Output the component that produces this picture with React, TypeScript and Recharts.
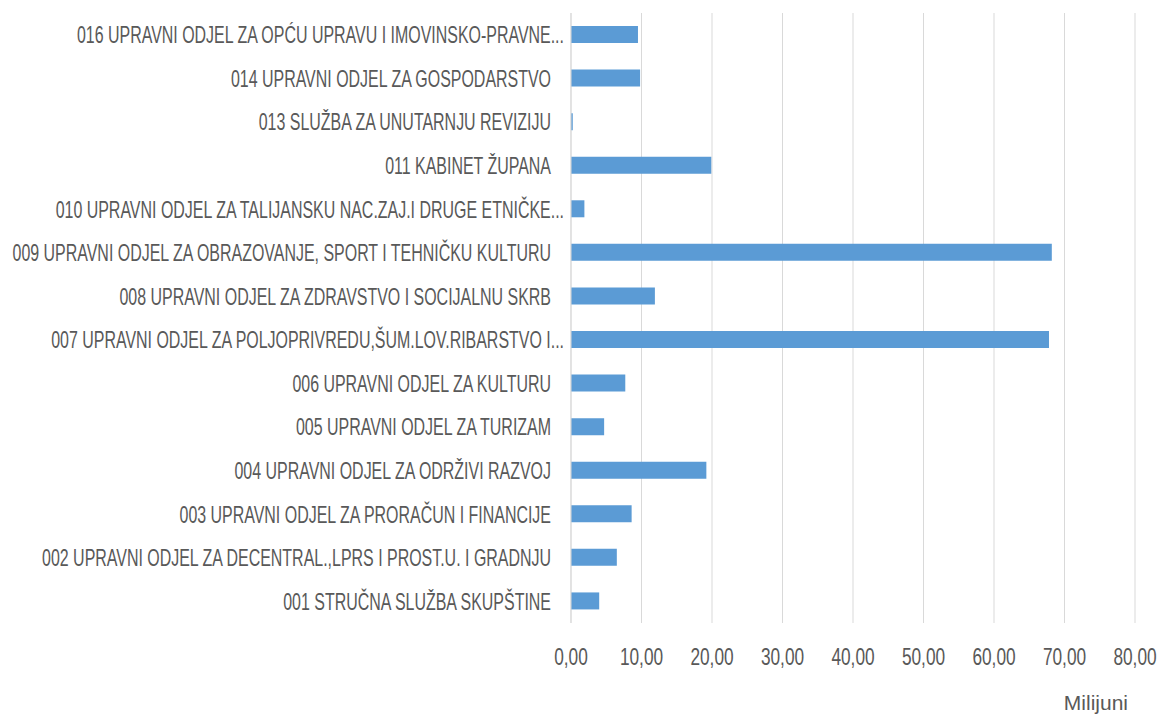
import { BarChart, Bar, XAxis, YAxis, CartesianGrid } from 'recharts';

const CATEGORIES = [
  '001 STRUČNA SLUŽBA SKUPŠTINE',
  '002 UPRAVNI ODJEL ZA DECENTRAL.,LPRS I PROST.U. I GRADNJU',
  '003 UPRAVNI ODJEL ZA PRORAČUN I FINANCIJE',
  '004 UPRAVNI ODJEL ZA ODRŽIVI RAZVOJ',
  '005 UPRAVNI ODJEL ZA TURIZAM',
  '006 UPRAVNI ODJEL ZA KULTURU',
  '007 UPRAVNI ODJEL ZA POLJOPRIVREDU,ŠUM.LOV.RIBARSTVO I...',
  '008 UPRAVNI ODJEL ZA ZDRAVSTVO I SOCIJALNU SKRB',
  '009 UPRAVNI ODJEL ZA OBRAZOVANJE, SPORT I TEHNIČKU KULTURU',
  '010 UPRAVNI ODJEL ZA TALIJANSKU NAC.ZAJ.I DRUGE ETNIČKE...',
  '011 KABINET ŽUPANA',
  '013 SLUŽBA ZA UNUTARNJU REVIZIJU',
  '014 UPRAVNI ODJEL ZA GOSPODARSTVO',
  '016 UPRAVNI ODJEL ZA OPĆU UPRAVU I IMOVINSKO-PRAVNE...',
];

// millions
const VALUES = [4.0, 6.5, 8.6, 19.2, 4.7, 7.7, 67.8, 11.9, 68.2, 1.9, 19.9, 0.25, 9.8, 9.5];

const X_TICKS = [0, 10, 20, 30, 40, 50, 60, 70, 80];

const TEXT = '#595959';
const FONT = 'Liberation Sans';

function fmtNum(v: number) {
  return v.toFixed(2).replace('.', ',');
}

function CategoryTick({ x, y, payload }: any) {
  const label = String(payload.value);
  // truncated labels sit a bit closer to the axis
  const dx = label.endsWith('...') ? -7 : -20;
  return (
    <text
      transform={`translate(${x + dx},${y}) scale(0.665,1)`}
      textAnchor="end"
      dy="0.355em"
      fontSize={24}
      fontFamily={FONT}
      fill={TEXT}
    >
      {label}
    </text>
  );
}

function ValueTick({ x, y, payload }: any) {
  return (
    <text
      transform={`translate(${x},${y}) scale(0.72,1)`}
      y={42}
      textAnchor="middle"
      fontSize={24}
      fontFamily={FONT}
      fill={TEXT}
    >
      {fmtNum(payload.value)}
    </text>
  );
}

export default function App() {
  const data = CATEGORIES.map((name, i) => ({ name, value: VALUES[i] }));

  return (
    <div style={{ position: 'absolute', left: 8, top: 8, width: 1150, height: 709 }}>
      <BarChart
        width={1150}
        height={709}
        data={data}
        layout="vertical"
        margin={{ top: 5, right: 23, bottom: 0, left: 0 }}
      >
        <CartesianGrid horizontal={false} stroke="#d9d9d9" />
        <XAxis
          type="number"
          domain={[0, 80]}
          ticks={X_TICKS}
          axisLine={false}
          tickLine={false}
          tickSize={0}
          tickMargin={0}
          height={94}
          tick={<ValueTick />}
          label={{
            value: 'Milijuni',
            position: 'insideBottomRight',
            offset: 7,
            fill: TEXT,
            fontSize: 21,
            fontFamily: FONT,
          }}
        />
        <YAxis
          type="category"
          dataKey="name"
          reversed
          width={563}
          interval={0}
          axisLine={{ stroke: '#d9d9d9' }}
          tickLine={false}
          tickSize={0}
          tickMargin={0}
          tick={<CategoryTick />}
        />
        <Bar dataKey="value" fill="#5B9BD5" barSize={17} isAnimationActive={false} />
      </BarChart>
    </div>
  );
}
